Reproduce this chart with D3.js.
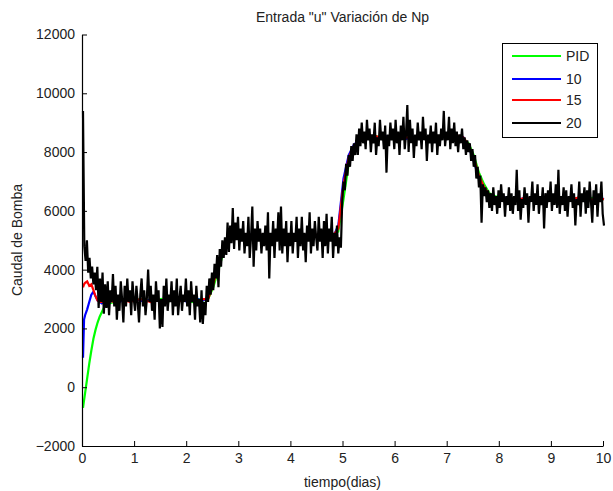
<!DOCTYPE html>
<html>
<head>
<meta charset="utf-8">
<script src="https://cdn.jsdelivr.net/npm/d3@7/dist/d3.min.js"></script>
<style>
  html, body { margin: 0; padding: 0; background: #fff; }
  svg { display: block; }
  text { font-family: "Liberation Sans", Arial, sans-serif; fill: #222; }
</style>
</head>
<body>
<svg id="chart" width="613" height="491"></svg>
<script>
// ---------------- DATA ----------------
const title = 'Entrada "u" Variación de Np';
const xLabel = "tiempo(dias)";
const yLabel = "Caudal de Bomba";
const xTicks = [0, 1, 2, 3, 4, 5, 6, 7, 8, 9, 10];
const yTicks = [-2000, 0, 2000, 4000, 6000, 8000, 10000, 12000];
const seriesNames = ["PID", "10", "15", "20"];

// Np = 20 (black), sampled every 0.025 days from t = 0 to 10
const step20 = 0.025;
const u20 = [
  9400, 4800, 4300, 5000, 3900, 4400, 3700, 4100, 3500, 3900,
  3300, 4100, 2700, 3700, 2900, 3900, 2500, 3500, 2700, 3600,
  2450, 3300, 2900, 3850, 2750, 3450, 2300, 3150, 2600, 3600,
  3000, 2200, 3450, 2750, 3700, 2900, 3300, 2450, 3600, 3000,
  2600, 3450, 2900, 2200, 3150, 3700, 2750, 3300, 2450, 3000,
  4000, 2900, 3450, 2600, 3150, 2300, 3600, 2900, 3300, 2000,
  3000, 2050, 3450, 2750, 3700, 2600, 3150, 2900, 3600, 2450,
  3300, 2750, 3700, 2450, 3000, 3450, 2600, 3150, 2900, 3700,
  2750, 3300, 2450, 3600, 2900, 3150, 2300, 3450, 2750, 3000,
  2200, 3300, 2150, 2900, 2450, 3450, 2900, 3700, 3150, 3900,
  3300, 4200, 3700, 4500, 3400, 4700, 4100, 5000, 4400, 5100,
  4500, 5600, 4600, 5500, 4900, 6100, 4700, 5600, 5000, 5800,
  4650, 5400, 4950, 5650, 4550, 5250, 4800, 5800, 4400, 5100,
  6150, 4100, 5400, 4650, 5650, 4950, 5400, 4550, 5250, 4800,
  5500, 4650, 5950, 3700, 5250, 4800, 5650, 4400, 5400, 4950,
  5950, 4650, 6150, 4550, 5400, 4800, 5650, 4250, 5250, 4800,
  5650, 4550, 5250, 4950, 5800, 4400, 5400, 4800, 5800, 4650,
  5250, 4250, 5500, 4950, 5950, 4550, 5400, 4800, 5650, 5100,
  4650, 5800, 4950, 5400, 4400, 5650, 4800, 5900, 4550, 5400,
  4950, 5800, 4400, 5250, 4800, 5500, 4550, 5100, 4750, 6300,
  7000, 6700, 7600, 7200, 7900, 7500, 8200, 7700, 8300, 7900,
  8600, 7900, 8800, 8200, 9000, 8300, 8700, 8100, 9100, 8400,
  8800, 8000, 8600, 8300, 9000, 7900, 8500, 8200, 9100, 8400,
  8700, 8100, 8900, 7300, 8600, 8200, 9000, 8400, 8800, 8100,
  9100, 8300, 8700, 7900, 8900, 8400, 9200, 8100, 8600, 9600,
  8000, 9100, 8300, 8800, 7800, 8600, 8200, 9000, 8400, 8700,
  8100, 9200, 8400, 8800, 7700, 8600, 8300, 8900, 8000, 8700,
  8300, 9000, 7900, 8600, 8200, 8800, 8400, 9400, 8200, 8700,
  8400, 9200, 8100, 8800, 8300, 9000, 8200, 8700, 8000, 8600,
  8300, 8800, 8100, 8500, 7900, 8400, 8000, 8300, 7700, 8100,
  7500, 7900, 7100, 7500, 6800, 7200, 5600, 6900, 6500, 6800,
  6300, 6700, 6100, 6600, 6000, 6800, 6200, 6500, 5900, 6700,
  6100, 6900, 6300, 6600, 5800, 6500, 6200, 6800, 6000, 6600,
  5900, 6500, 6200, 7400, 6000, 6700, 5700, 6400, 6100, 6800,
  6200, 6600, 5600, 6500, 6300, 7000, 6000, 6600, 6200, 6900,
  5900, 6500, 6200, 6800, 5400, 6600, 6100, 6700, 6300, 7000,
  6000, 6600, 6200, 6900, 6100, 7400, 5900, 6500, 6200, 6800,
  6000, 6700, 5800, 6500, 6300, 6900, 6100, 6600, 5500, 6400,
  6200, 7000, 5800, 6600, 6300, 6800, 5900, 6700, 6100, 7000,
  6300, 5600, 6700, 6200, 6900, 5800, 6600, 6300, 7000, 5900,
  5500
];

// PID, Np = 10, Np = 15: start-up samples, then every 0.1 days from 0.5 to 10
const tStart = [0, 0.02, 0.04, 0.08, 0.12, 0.16, 0.2, 0.24, 0.28, 0.32, 0.36, 0.4, 0.44];
const tStepLate = 0.1;
const uPID = [
  -700, -450, -200, 300, 800, 1250, 1650, 1950, 2200, 2400, 2550, 2700, 2800,
  2850, 2900, 2950, 2950, 3000,
  2950, 3000, 2900, 3000, 2950, 3000, 2900, 2950, 3000, 2950,
  2950, 2900, 3000, 2950, 3000, 3400, 4000, 4600, 5000, 5150,
  5100, 5150, 5100, 5200, 5100, 5150, 5100, 5200, 5150, 5100,
  5150, 5200, 5100, 5150, 5200, 5150, 5200, 5100, 5200, 5300,
  6400, 7600, 8100, 8350, 8450, 8500, 8550, 8500, 8450, 8550,
  8500, 8550, 8500, 8450, 8500, 8550, 8500, 8450, 8500, 8550,
  8500, 8550, 8500, 8450, 8300, 7900, 7300, 6900, 6600, 6500,
  6450, 6400, 6450, 6400, 6350, 6400, 6450, 6400, 6350, 6400,
  6450, 6400, 6350, 6400, 6450, 6400, 6350, 6400, 6450, 6400,
  6400
];
const u10 = [
  1000, 2300, 2450, 2650, 2900, 3150, 3250, 3100, 2950, 2900, 2850, 2900, 2900,
  2900, 2950, 2900, 3000, 2950,
  3000, 2950, 2900, 3000, 2950, 2900, 3000, 2950, 2950, 3000,
  2900, 2950, 3000, 2950, 3050, 3600, 4300, 4750, 5000, 5100,
  5150, 5100, 5200, 5100, 5150, 5200, 5100, 5150, 5200, 5100,
  5200, 5150, 5100, 5200, 5150, 5100, 5200, 5150, 5100, 5500,
  7100, 7900, 8250, 8400, 8500, 8550, 8500, 8450, 8550, 8500,
  8550, 8500, 8450, 8500, 8550, 8500, 8450, 8550, 8500, 8500,
  8550, 8500, 8450, 8500, 8200, 7700, 7100, 6750, 6550, 6450,
  6400, 6450, 6400, 6350, 6400, 6450, 6400, 6350, 6450, 6400,
  6400, 6350, 6450, 6400, 6350, 6400, 6450, 6400, 6350, 6450,
  6400
];
const u15 = [
  3400, 3500, 3550, 3600, 3450, 3500, 3300, 3100, 2950, 2900, 2900, 2950, 2900,
  2950, 2900, 3000, 2950, 2900,
  2950, 3000, 2950, 2900, 3000, 2950, 2950, 3000, 2900, 2950,
  3000, 2950, 2900, 3000, 3000, 3500, 4200, 4650, 4950, 5100,
  5100, 5200, 5150, 5100, 5200, 5150, 5100, 5200, 5100, 5150,
  5150, 5100, 5200, 5150, 5100, 5200, 5150, 5200, 5150, 5400,
  6900, 7800, 8200, 8400, 8450, 8500, 8550, 8500, 8500, 8450,
  8500, 8550, 8500, 8500, 8450, 8550, 8500, 8500, 8450, 8550,
  8500, 8450, 8550, 8500, 8250, 7800, 7200, 6800, 6550, 6450,
  6400, 6400, 6450, 6350, 6400, 6450, 6400, 6400, 6350, 6450,
  6400, 6450, 6400, 6350, 6400, 6450, 6400, 6350, 6400, 6400,
  6400
];
const seriesColors = ["#00ff00", "#0000ff", "#ff0000", "#000000"];

// ---------------- BUILD ----------------
const t20 = u20.map((_, i) => i * step20);
const tLate = d3.range(0, uPID.length - tStart.length).map(i => 0.5 + i * tStepLate);
const tColor = tStart.concat(tLate);
const toPts = (ts, us) => us.map((u, i) => [ts[i], u]);
const series = [
  toPts(tColor, uPID),
  toPts(tColor, u10),
  toPts(tColor, u15),
  toPts(t20, u20)
];

const W = 613, H = 491;
const x = d3.scaleLinear().domain([0, 10]).range([82, 603]);
const y = d3.scaleLinear().domain([-2000, 12000]).range([446, 34.5]);

const svg = d3.select("#chart");
svg.append("rect").attr("width", W).attr("height", H).attr("fill", "#fff");

svg.append("defs").append("clipPath").attr("id", "clip")
  .append("rect").attr("x", 80).attr("y", 34.5).attr("width", 525).attr("height", 411.5);

const line = d3.line().x(d => x(d[0]) + 1).y(d => y(d[1]));
const plot = svg.append("g").attr("clip-path", "url(#clip)");
series.forEach((pts, k) => {
  plot.append("path")
    .datum(pts)
    .attr("d", line)
    .attr("fill", "none")
    .attr("stroke", seriesColors[k])
    .attr("stroke-width", 2.2)
    .attr("stroke-linejoin", "miter");
});

// axes (MATLAB style, ticks inward, no box)
const fontSize = 14;
const yAxis = d3.axisLeft(y).tickValues(yTicks).tickSizeInner(-5).tickSizeOuter(0).tickPadding(12)
  .tickFormat(d3.format("d"));
const gy = svg.append("g").attr("transform", "translate(82,0)").call(yAxis);
const xAxis = d3.axisBottom(x).tickValues(xTicks).tickSizeInner(-5).tickSizeOuter(0).tickPadding(12)
  .tickFormat(d3.format("d"));
const gx = svg.append("g").attr("transform", "translate(0,446)").call(xAxis);
[gx, gy].forEach(g => {
  g.select(".domain").attr("stroke", "#000").attr("stroke-width", 1.2);
  g.selectAll(".tick line").attr("stroke", "#000").attr("stroke-width", 1);
  g.selectAll(".tick text").attr("font-size", fontSize)
    .attr("font-family", "Liberation Sans, Arial, sans-serif").attr("fill", "#222");
});
gy.selectAll(".tick text").attr("x", -7);
gx.selectAll(".tick text").attr("y", 7);

// title and labels
svg.append("text").attr("x", 342.5).attr("y", 22).attr("text-anchor", "middle")
  .attr("font-size", 14).text(title);
svg.append("text").attr("x", 342.5).attr("y", 487).attr("text-anchor", "middle")
  .attr("font-size", 14).text(xLabel);
svg.append("text").attr("transform", "translate(22,240) rotate(-90)").attr("text-anchor", "middle")
  .attr("font-size", 14).text(yLabel);

// legend
const lg = svg.append("g");
lg.append("rect").attr("x", 502.5).attr("y", 43.5).attr("width", 95).attr("height", 94)
  .attr("fill", "#fff").attr("stroke", "#000").attr("stroke-width", 1);
const legendY = [56, 79, 100, 123];
seriesNames.forEach((name, k) => {
  lg.append("line").attr("x1", 512).attr("x2", 561)
    .attr("y1", legendY[k]).attr("y2", legendY[k])
    .attr("stroke", seriesColors[k]).attr("stroke-width", 2);
  lg.append("text").attr("x", 566).attr("y", legendY[k]).attr("dy", "0.36em")
    .attr("font-size", 14).text(name);
});
</script>
</body>
</html>
